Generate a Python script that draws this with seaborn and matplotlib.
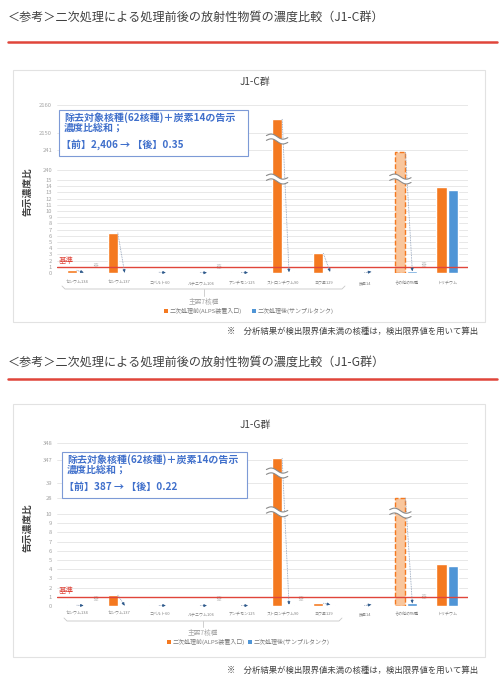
"""
二次処理前後の告示濃度比 (J1-C群 / J1-G群) の比較チャート
"""

import numpy as np
import pandas as pd
import matplotlib
matplotlib.use("Agg")
import matplotlib.pyplot as plt
import matplotlib.transforms as mtransforms
import seaborn as sns
from matplotlib.patches import Rectangle
from matplotlib.lines import Line2D

W, H = 500, 674

categories = ["セシウム134", "セシウム137", "コバルト60", "ルテニウム106", "アンチモン125",
              "ストロンチウム90", "ヨウ素129", "炭素14", "その他の核種", "トリチウム"]
hue_labels = ["二次処理前(ALPS装置入口)", "二次処理後(サンプルタンク)"]

# J1-C群
c_pre = [0.45, 6.5, 0.12, 0.04, 0.10, 2155, 3.2, 0.05, 240.9, 13.9]
c_post = [0.08, 0.06, 0.06, 0.05, 0.05, 0.15, 0.2, 0.2, 0.3, 13.4]
c_scale_vals = [0, 15, 240, 241, 2150, 2160]
c_scale_pos = [0, 93, 103, 123, 140, 168]
c_ticks = list(range(16)) + [240, 241, 2150, 2160]
c_note_idx = [0, 3, 8]
c_breaks = [(5, 37), (5, 1476), (8, 37)]
c_summary = "【前】2,406 → 【後】0.35"

# J1-G群
g_pre = [0.08, 1.2, 0.06, 0.03, 0.04, 347.1, 0.3, 0.05, 28.1, 4.6]
g_post = [0.05, 0.05, 0.05, 0.05, 0.05, 0.15, 0.15, 0.15, 0.3, 4.35]
g_scale_vals = [0, 10, 28, 39, 347, 348]
g_scale_pos = [0, 92, 108, 123, 146, 163]
g_ticks = list(range(11)) + [28, 39, 347, 348]
g_note_idx = [0, 3, 5, 8]
g_breaks = [(5, 12.5), (5, 173), (8, 11)]
g_summary = "【前】387 → 【後】0.22"

ORANGE = "#F47920"
BLUE = "#4F95D6"
LIGHT_ORANGE = "#F9C69C"
RED = "#E0453A"
TEXT = "#404040"
INFO_BLUE = "#3F6FCB"

LAYOUT_C = dict(title_y=17, rule_y=42, box=(13, 70, 485, 322), chart_title_y=82,
                plot=(57, 105, 468, 273), xlab_y=283, bracket=(62, 345, 289, 296),
                group_y=302, legend_y=311, legend_x=(166, 254), foot_y=331,
                info=(59, 110, 248, 156))
LAYOUT_G = dict(title_y=362, rule_y=379, box=(13, 404, 485, 657), chart_title_y=425,
                plot=(57, 443, 468, 606), xlab_y=614, bracket=(64, 342, 621, 627),
                group_y=633, legend_y=642, legend_x=(169, 250), foot_y=670,
                info=(62, 452, 247, 498))


def fx(x):
    return x / W


def fy(y):
    return 1 - y / H


def make_scale(vals, pos):
    # piecewise linear axis with compressed gaps (broken axis look)
    s0 = (pos[1] - pos[0]) / (vals[1] - vals[0])
    s1 = (pos[-1] - pos[-2]) / (vals[-1] - vals[-2])
    v = np.array([vals[0] - 1e4] + vals + [vals[-1] + 1e6], dtype=float)
    p = np.array([pos[0] - 1e4 * s0] + pos + [pos[-1] + 1e6 * s1], dtype=float)

    def fwd(y):
        return np.interp(y, v, p)

    def inv(q):
        return np.interp(q, p, v)
    return fwd, inv


def draw_break(ax, xc, yv, plot_h):
    trans = mtransforms.blended_transform_factory(ax.transData, ax.transAxes)
    ya = ax.transAxes.inverted().transform(ax.transData.transform((xc, yv)))[1]
    xs = np.linspace(xc - 0.26, xc + 0.26, 40)
    t = np.linspace(0, 2 * np.pi, 40)
    amp = 2.0 / plot_h
    tilt = -(xs - xc) * 4.0 / plot_h
    y1 = ya + amp * np.sin(t) + tilt + 2.4 / plot_h
    y2 = y1 - 4.8 / plot_h
    ax.fill(np.r_[xs, xs[::-1]], np.r_[y1, y2[::-1]], color="white",
            transform=trans, zorder=5, lw=0)
    ax.plot(xs, y1, color="#8a8a8a", lw=0.8, transform=trans, zorder=6)
    ax.plot(xs, y2, color="#8a8a8a", lw=0.8, transform=trans, zorder=6)


def draw_panel(fig, lay, group, pre, post, scale_vals, scale_pos, ticks,
               note_idx, breaks, summary):
    # header
    fig.text(fx(8), fy(lay["title_y"]),
             f"＜参考＞二次処理による処理前後の放射性物質の濃度比較（J1-{group}群）",
             fontsize=8.7, color=TEXT, va="center", ha="left")
    fig.add_artist(Line2D([fx(8), fx(497)], [fy(lay["rule_y"])] * 2,
                          color=RED, lw=1.8, transform=fig.transFigure))

    bx0, by0, bx1, by1 = lay["box"]
    fig.add_artist(Rectangle((fx(bx0), fy(by1)), fx(bx1 - bx0), (by1 - by0) / H,
                             transform=fig.transFigure, fill=False,
                             ec="#e2e2e2", lw=0.8, zorder=0))
    fig.text(fx((bx0 + bx1) / 2 + 6), fy(lay["chart_title_y"]), f"J1-{group}群",
             fontsize=7.2, color=TEXT, ha="center", va="center")

    # plot area
    px0, py0, px1, py1 = lay["plot"]
    plot_h = py1 - py0
    ax = fig.add_axes([fx(px0), fy(py1), fx(px1 - px0), plot_h / H])
    ax.patch.set_alpha(0)

    df = pd.DataFrame({
        "核種": categories * 2,
        "告示濃度比": pre + post,
        "区分": [hue_labels[0]] * len(categories) + [hue_labels[1]] * len(categories),
    })
    sns.barplot(data=df, x="核種", y="告示濃度比", hue="区分", order=categories,
                hue_order=hue_labels, palette=[ORANGE, BLUE], saturation=1,
                width=0.58, gap=0.15, legend=False, ax=ax, zorder=3)

    fwd, inv = make_scale(scale_vals, scale_pos)
    ax.set_yscale("function", functions=(fwd, inv))
    ax.set_ylim(scale_vals[0], scale_vals[-1])
    ax.set_xlim(-0.5, 9.5)
    ax.autoscale(False)
    ax.set_yticks(ticks)
    ax.set_yticklabels([str(t) for t in ticks])
    ax.yaxis.grid(True, color="#dedede", lw=0.5, zorder=0)
    ax.xaxis.grid(False)
    ax.set_axisbelow(True)
    for sp in ax.spines.values():
        sp.set_visible(False)
    ax.set_xlabel("")
    ax.set_ylabel("")
    ax.tick_params(axis="y", length=0, pad=3.5, labelsize=4.2, labelcolor="#a3a3a3")
    ax.tick_params(axis="x", length=0, pad=(lay["xlab_y"] - py1 - 2) * 0.72,
                   labelsize=2.9, labelcolor="#808080")

    fig.text(fx(27), fy((py0 + py1) / 2 + 3), "告示濃度比", rotation=90,
             fontsize=7, fontweight="bold", color=TEXT, ha="center", va="center")

    # baseline (基準 = 1)
    ax.axhline(1, color=RED, lw=1.0, zorder=4)
    ax.annotate("基準", xy=(-0.46, 1), xytext=(0, 1.5), textcoords="offset points",
                fontsize=5.4, color=RED, ha="left", va="bottom")

    bars = sorted(ax.patches, key=lambda p: p.get_x())
    pre_bars = bars[0::2]
    post_bars = bars[1::2]

    other = pre_bars[8]
    other.set_facecolor(LIGHT_ORANGE)
    other.set_edgecolor(ORANGE)
    other.set_linestyle((0, (3.5, 1.5)))
    other.set_linewidth(1.0)

    # arrows pre -> post
    for i in range(len(categories) - 1):
        pb, qb = pre_bars[i], post_bars[i]
        x0 = pb.get_x() + pb.get_width()
        y0 = pb.get_height()
        x1 = qb.get_x() + qb.get_width() / 2
        y1 = qb.get_height()
        ax.plot([x0, x1], [y0, y1], ls=(0, (1, 1)), color="#8a9bb5", lw=0.6, zorder=4)
        d0 = ax.transData.transform((x0, y0))
        d1 = ax.transData.transform((x1, y1))
        vec = d1 - d0
        vec = vec / np.hypot(*vec)
        ax.annotate("", xy=(x1, y1), xytext=(-vec[0] * 3.5, -vec[1] * 3.5),
                    textcoords="offset pixels",
                    arrowprops=dict(arrowstyle="-|>", color="#2E5A8C", lw=0.5,
                                    mutation_scale=4, shrinkA=0, shrinkB=0),
                    zorder=6)

    for i in note_idx:
        qb = post_bars[i]
        ax.annotate("※", xy=(qb.get_x() + qb.get_width() + 0.15, qb.get_height()),
                    xytext=(0, 1.5), textcoords="offset points", fontsize=4.4,
                    color="#8c8c8c", ha="center", va="bottom")

    for ci, yv in breaks:
        b = pre_bars[ci]
        draw_break(ax, b.get_x() + b.get_width() / 2, yv, plot_h)

    # info box
    ix0, iy0, ix1, iy1 = lay["info"]
    fig.add_artist(Rectangle((fx(ix0), fy(iy1)), fx(ix1 - ix0), (iy1 - iy0) / H,
                             transform=fig.transFigure, fc="white", ec="#7d9ad6",
                             lw=0.8, zorder=10))
    fig.text(fx(ix0 + 5), fy(iy0 + 8), "除去対象核種(62核種)＋炭素14の告示",
             fontsize=7.2, fontweight="bold", color=INFO_BLUE, va="center", zorder=11)
    fig.text(fx(ix0 + 5), fy(iy0 + 18), "濃度比総和；",
             fontsize=7.2, fontweight="bold", color=INFO_BLUE, va="center", zorder=11)
    fig.text(fx(ix0 + 2), fy(iy0 + 35), summary,
             fontsize=7.2, fontweight="bold", color=INFO_BLUE, va="center", zorder=11)

    # bracket for main 7 nuclides
    bl, br, bt, bb = lay["bracket"]
    brk_col = "#c8c8c8"
    fig.add_artist(Line2D([fx(bl), fx(bl + 3), fx(br - 3), fx(br)],
                          [fy(bt - 3), fy(bt), fy(bt), fy(bt - 3)],
                          color=brk_col, lw=0.6, transform=fig.transFigure))
    mid = (bl + br) / 2
    fig.add_artist(Line2D([fx(mid), fx(mid)], [fy(bt), fy(bb)],
                          color=brk_col, lw=0.6, transform=fig.transFigure))
    fig.text(fx(mid), fy(lay["group_y"]), "主要7核種", fontsize=4.8,
             color="#a8a8a8", ha="center", va="center")

    # legend
    lx0, lx1 = lay["legend_x"]
    for lx, col, lab in [(lx0, ORANGE, hue_labels[0]), (lx1, BLUE, hue_labels[1])]:
        fig.add_artist(Rectangle((fx(lx - 2), fy(lay["legend_y"] + 2)), fx(4), 4 / H,
                                 transform=fig.transFigure, color=col, lw=0))
        fig.text(fx(lx + 4), fy(lay["legend_y"]), lab, fontsize=4.3,
                 color="#7a7a7a", ha="left", va="center")

    fig.text(fx(478), fy(lay["foot_y"]),
             "※　分析結果が検出限界値未満の核種は，検出限界値を用いて算出",
             fontsize=6.0, color=TEXT, ha="right", va="center")


def main():
    sns.set_theme(style="white")
    plt.rcParams["font.family"] = ["Noto Sans CJK JP", "DejaVu Sans"]
    fig = plt.figure(figsize=(W / 100, H / 100), dpi=100)
    fig.patch.set_facecolor("white")

    draw_panel(fig, LAYOUT_C, "C", c_pre, c_post, c_scale_vals, c_scale_pos,
               c_ticks, c_note_idx, c_breaks, c_summary)
    draw_panel(fig, LAYOUT_G, "G", g_pre, g_post, g_scale_vals, g_scale_pos,
               g_ticks, g_note_idx, g_breaks, g_summary)

    fig.savefig("out.png", dpi=100)
    plt.close(fig)


if __name__ == "__main__":
    main()
